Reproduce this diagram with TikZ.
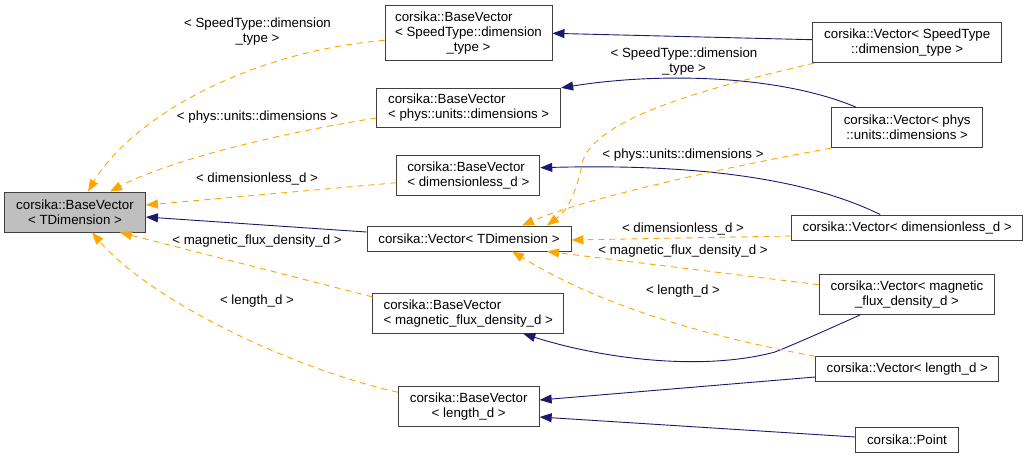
\documentclass[tikz,border=0pt]{standalone}
\usepackage{fontspec}
\setmainfont{Liberation Sans}
\usepackage{tikz}
\usetikzlibrary{arrows.meta}
\definecolor{edgeNavy}{HTML}{191970}
\definecolor{edgeOrange}{HTML}{FFA500}
\definecolor{rootGray}{HTML}{BFBFBF}

\begin{document}
\begin{tikzpicture}[x=1pt, y=-1pt,
            font=\fontsize{13.3}{15}\selectfont,
            classbox/.style={
              draw=black!75, line width=0.9pt,
              inner sep=0pt, align=center
            },
            rootbox/.style={classbox, fill=rootGray},
            inherit/.style={
              draw=edgeNavy, line width=0.9pt,
              {Triangle[length=12pt, width=9pt]}-
            },
            tmplarg/.style={
              draw=edgeOrange, line width=0.9pt,
              dash pattern=on 6pt off 5pt,
              -{Triangle[length=12pt, width=9pt]}
            },
            tlabel/.style={inner sep=0pt, align=center}
          ]
          \useasboundingbox (0,0) rectangle (1028,459);

          % Clase base de la plantilla
          \node[rootbox, minimum width=141pt, minimum height=40pt]
            (bvT) at (75,212) {corsika::BaseVector\\< TDimension >};

          % Instancias de BaseVector
          \node[classbox, minimum width=167pt, minimum height=55pt]
            (bvSpeed) at (468.5,33.3)
            {\begin{tabular}{@{}l@{}}corsika::BaseVector\\< SpeedType::dimension\\\multicolumn{1}{@{}c@{}}{\_type >}\end{tabular}};
          \node[classbox, align=left, minimum width=184pt, minimum height=39.4pt]
            (bvPhys) at (468.7,108) {corsika::BaseVector\\< phys::units::dimensions >};
          \node[classbox, align=left, minimum width=143pt, minimum height=40pt]
            (bvDimless) at (468.3,175.7) {corsika::BaseVector\\< dimensionless\_d >};
          \node[classbox, minimum width=204pt, minimum height=25pt]
            (vT) at (469,238.5) {corsika::Vector< TDimension >};
          \node[classbox, align=left, minimum width=191pt, minimum height=40pt]
            (bvMag) at (468.3,313.3) {corsika::BaseVector\\< magnetic\_flux\_density\_d >};
          \node[classbox, minimum width=141pt, minimum height=40pt]
            (bvLen) at (468.7,406.7) {corsika::BaseVector\\< length\_d >};

          % Instancias de Vector (columna derecha)
          \node[classbox, minimum width=189pt, minimum height=40pt]
            (vSpeed) at (907.2,42.7) {corsika::Vector< SpeedType\\::dimension\_type >};
          \node[classbox, minimum width=151pt, minimum height=40pt]
            (vPhys) at (907.2,127.7) {corsika::Vector< phys\\::units::dimensions >};
          \node[classbox, minimum width=231pt, minimum height=25pt]
            (vDimless) at (907.2,227.5) {corsika::Vector< dimensionless\_d >};
          \node[classbox, minimum width=175pt, minimum height=40pt]
            (vMag) at (907,294.5) {corsika::Vector< magnetic\\\_flux\_density\_d >};
          \node[classbox, minimum width=183pt, minimum height=25pt]
            (vLen) at (907.3,369.3) {corsika::Vector< length\_d >};
          \node[classbox, minimum width=103pt, minimum height=25pt]
            (point) at (907,439.8) {corsika::Point};

          % Herencia (azul)
          \draw[inherit] (bvSpeed.east) -- ([yshift=3pt]vSpeed.west);
          \draw[inherit] (bvPhys.north east)
            .. controls (660,72) and (780,75) .. ([xshift=-51pt]vPhys.north);
          \draw[inherit] ([yshift=8pt]bvDimless.east)
            .. controls (680,164) and (800,175) .. ([xshift=-27pt]vDimless.north);
          \draw[inherit] ([yshift=-5pt]bvT.east) -- ([yshift=6.5pt]vT.west);
          \draw[inherit] ([xshift=55pt]bvMag.south)
            .. controls (600,358) and (700,372) .. (775,352)
            .. controls (800,342) and (840,324) .. ([xshift=-47pt]vMag.south);
          \draw[inherit] ([yshift=6.7pt]bvLen.east) -- ([yshift=-7.7pt]vLen.west);
          \draw[inherit] ([yshift=-10.3pt]bvLen.east) -- ([yshift=2.8pt]point.west);

          % Instanciacion de plantillas hacia BaseVector< TDimension >
          \draw[tmplarg] ([yshift=-7pt]bvSpeed.west)
            .. controls (245,52) and (130,120) .. ([xshift=13pt]bvT.north);
          \draw[tmplarg] ([yshift=-10pt]bvPhys.west)
            .. controls (280,133) and (170,160) .. ([xshift=35pt]bvT.north);
          \draw[tmplarg] ([yshift=-7pt]bvDimless.west) -- ([yshift=7pt]bvT.east);
          \draw[tmplarg] ([yshift=-4pt]bvMag.north west) -- ([xshift=45pt]bvT.south);
          \draw[tmplarg] ([yshift=-6pt]bvLen.north west)
            .. controls (290,368) and (150,300) .. ([xshift=17pt]bvT.south);

          % Instanciacion de plantillas hacia Vector< TDimension >
          \draw[tmplarg] ([xshift=2pt]vSpeed.south west)
            .. controls (720,85) and (600,115) .. (583,160)
            .. controls (575,200) and (565,212) .. ([xshift=78pt]vT.north);
          \draw[tmplarg] (vPhys.south west)
            .. controls (720,168) and (580,200) .. ([xshift=53pt]vT.north);
          \draw[tmplarg] ([yshift=-8.5pt]vDimless.west) -- ([yshift=-1.5pt]vT.east);
          \draw[tmplarg] ([yshift=-10.7pt]vMag.north west) -- ([xshift=78pt]vT.south);
          \draw[tmplarg] (vLen.north west)
            .. controls (700,335) and (600,305) .. ([xshift=43pt]vT.south);

          % Etiquetas de los argumentos
          \node[tlabel] (lbSpeedA) at (257.5,31.5) {< SpeedType::dimension\\\_type >};
          \node[tlabel] (lbPhysA) at (257.5,117) {< phys::units::dimensions >};
          \node[tlabel] (lbDimlessA) at (257,179) {< dimensionless\_d >};
          \node[tlabel] (lbMagA) at (257,241) {< magnetic\_flux\_density\_d >};
          \node[tlabel] (lbLenA) at (257,301) {< length\_d >};
          \node[tlabel] (lbSpeedB) at (684,62) {< SpeedType::dimension\\\_type >};
          \node[tlabel] (lbPhysB) at (683,155) {< phys::units::dimensions >};
          \node[tlabel] (lbDimlessB) at (683,229) {< dimensionless\_d >};
          \node[tlabel] (lbMagB) at (683,251) {< magnetic\_flux\_density\_d >};
          \node[tlabel] (lbLenB) at (683,291) {< length\_d >};
        \end{tikzpicture}
\end{document}
